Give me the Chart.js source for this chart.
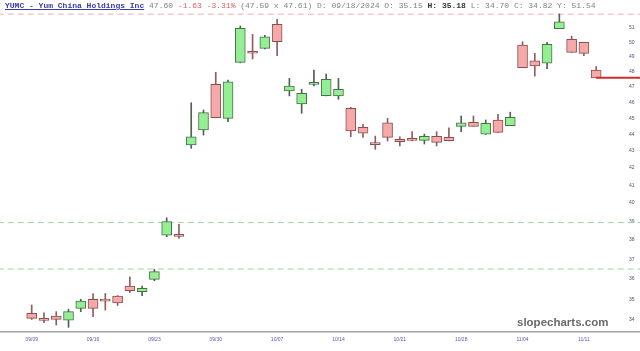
<!DOCTYPE html>
<html>
<head>
<meta charset="utf-8">
<script src="https://cdn.jsdelivr.net/npm/chart.js@4/dist/chart.umd.min.js"></script>
<style>
  html, body { margin: 0; padding: 0; background: #fff; }
  #wrap { position: relative; width: 640px; height: 351px; overflow: hidden; }
  canvas { position: absolute; left: 0; top: 0; }
  #hdr { position: absolute; left: 5px; top: 1px; font: 8px "Liberation Mono", "DejaVu Sans Mono", monospace; line-height: 10px; white-space: pre; color: #808080; }
  #hdr .t { color: #3a3aa8; text-decoration: underline; font-weight: bold; }
  #hdr .r { color: #e06060; }
  #hdr b { color: #333; }
  #wm { position: absolute; left: 517px; top: 315px; font: bold 11.5px "Liberation Sans", Arial, sans-serif; color: #6a6a6a; line-height: 14px; }
</style>
</head>
<body>
<div id="wrap">
  <canvas id="c" width="640" height="351"></canvas>
  <div id="hdr"><span class="t">YUMC - Yum China Holdings Inc</span> 47.60 <span class="r">-1.63 -3.31%</span> (47.59 x 47.61) D: 09/18/2024 O: 35.15 <b>H: 35.18</b> L: 34.70 C: 34.82 Y: 51.54</div>
  <div id="wm">slopecharts.com</div>
</div>
<script>
const dates = ['09/09','09/10','09/11','09/12','09/13','09/16','09/17','09/18','09/19','09/20',
  '09/23','09/24','09/25','09/26','09/27','09/30','10/01','10/02','10/03','10/04',
  '10/07','10/08','10/09','10/10','10/11','10/14','10/15','10/16','10/17','10/18',
  '10/21','10/22','10/23','10/24','10/25','10/28','10/29','10/30','10/31','11/01',
  '11/04','11/05','11/06','11/07','11/08','11/11','11/12'];
const open  = [34.32,34.08,34.19,34.00,34.56,34.99,34.97,35.15,35.65,35.37,
  35.98,38.26,38.30,43.36,44.27,47.17,44.99,48.63,49.38,49.59,
  51.27,46.74,45.90,47.17,46.44,46.42,45.63,44.44,43.46,44.72,
  43.70,43.72,43.64,43.88,43.82,44.50,44.75,44.01,44.89,44.54,
  49.82,48.74,48.57,50.96,50.21,50.00,48.12];
const high  = [34.72,34.35,34.40,34.52,35.00,35.28,35.28,35.18,36.11,35.65,
  36.48,39.19,38.84,45.98,45.52,47.96,47.45,51.15,50.56,50.49,
  51.62,47.56,46.85,48.12,47.85,47.56,45.69,44.62,43.90,45.00,
  43.86,44.17,44.02,44.17,44.41,45.14,45.14,44.89,45.25,45.38,
  50.04,49.25,50.00,52.01,50.44,50.00,48.34];
const low   = [34.03,33.88,33.77,33.66,34.40,34.16,34.48,34.70,35.32,35.17,
  35.91,38.17,38.09,43.16,43.96,45.03,44.78,48.60,48.86,49.54,
  49.08,46.42,45.31,47.07,46.42,46.20,43.86,43.82,43.10,43.60,
  43.30,43.60,43.42,43.30,43.60,44.17,44.50,44.00,44.13,44.54,
  48.27,47.71,48.20,50.96,49.31,49.08,47.60];
const close = [34.08,33.99,34.03,34.40,34.91,34.56,34.91,34.82,35.42,35.53,
  36.37,38.98,38.19,43.86,45.35,45.03,47.34,50.99,49.25,50.39,
  50.05,47.06,46.59,47.30,47.50,46.85,44.21,44.07,43.38,43.82,
  43.56,43.64,43.88,43.52,43.62,44.72,44.50,44.68,44.13,45.06,
  48.27,48.39,49.87,51.45,49.31,49.24,47.60];
const xTickLabels = ['09/09','09/16','09/23','09/30','10/07','10/14','10/21','10/28','11/04','11/11'];
const yTickLabels = [34,35,36,37,38,39,40,41,42,43,44,45,46,47,48,49,50,51];
const greenLevels = [38.93, 36.50];
const pinkLevel = 52.0;
const lastPrice = 47.60;

const up = close.map((c, i) => c >= open[i]);
const idx = dates.map((d, i) => i);
const X_MIN = -2.583, X_MAX = 47.78;

const datasets = [
  {
    type: 'bar', label: 'wick', grouped: false, order: 3,
    data: idx.map(i => ({x: i, y: [low[i], high[i]]})),
    backgroundColor: up.map(u => u ? '#4f614f' : '#8e5e5e'),
    borderWidth: 0, maxBarThickness: 1, barPercentage: 1, categoryPercentage: 1
  },
  {
    type: 'bar', label: 'body', grouped: false, order: 2,
    data: idx.map(i => ({x: i, y: [open[i], close[i]]})),
    backgroundColor: up.map(u => u ? '#94ee94' : '#f6a9a9'),
    borderColor: up.map(u => u ? '#4a704a' : '#8a5050'),
    borderWidth: 1, borderSkipped: false, minBarLength: 2,
    maxBarThickness: 10, barPercentage: 1, categoryPercentage: 1
  },
  ...greenLevels.map(v => ({
    type: 'line', label: 'lvl', order: 4, clip: false,
    data: [{x: X_MIN - 1, y: v}, {x: X_MAX + 4, y: v}],
    borderColor: '#9fd29f', borderWidth: 1, borderDash: [6, 4], pointRadius: 0
  })),
  {
    type: 'line', label: 'hi', order: 4, clip: false,
    data: [{x: X_MIN - 1, y: pinkLevel}, {x: X_MAX + 4, y: pinkLevel}],
    borderColor: '#f0acac', borderWidth: 1, borderDash: [6, 4], pointRadius: 0
  },
  {
    type: 'line', label: 'last', order: 1, clip: false,
    data: [{x: dates.length - 1, y: lastPrice}, {x: X_MAX + 4, y: lastPrice}],
    borderColor: '#d42a2a', borderWidth: 2, pointRadius: 0
  }
];

const fullBaseline = {
  id: 'fullBaseline',
  afterDraw(chart) {
    const {ctx, chartArea} = chart;
    ctx.save();
    ctx.strokeStyle = '#a0a0a0';
    ctx.lineWidth = 1.5;
    ctx.beginPath();
    ctx.moveTo(chartArea.left, chartArea.bottom + 0.75);
    ctx.lineTo(chart.width, chartArea.bottom + 0.75);
    ctx.stroke();
    ctx.restore();
  }
};

new Chart(document.getElementById('c'), {
  type: 'bar',
  data: { datasets },
  plugins: [fullBaseline],
  options: {
    responsive: false, animation: false, devicePixelRatio: 1,
    layout: { padding: 0 },
    plugins: { legend: { display: false }, tooltip: { enabled: false } },
    scales: {
      x: {
        type: 'linear', min: X_MIN, max: X_MAX, offset: false,
        grid: { display: false, drawTicks: false },
        border: { display: false },
        afterBuildTicks: s => { s.ticks = xTickLabels.map(l => ({ value: dates.indexOf(l) })); },
        afterFit: s => { s.height = 20; s.paddingLeft = 0; s.paddingRight = 0; },
        ticks: {
          autoSkip: false, maxRotation: 0, padding: 6, color: '#5a5aa8',
          font: { family: 'Liberation Sans', size: 5 },
          callback: v => dates[v]
        }
      },
      y: {
        type: 'logarithmic', position: 'right', min: 33.49, max: 53.03,
        grid: { display: false, drawTicks: false },
        border: { display: false },
        afterBuildTicks: s => { s.ticks = yTickLabels.map(v => ({ value: v })); },
        afterFit: s => { s.width = 22; s.paddingTop = 0; s.paddingBottom = 0; },
        ticks: {
          autoSkip: false, padding: 11, color: '#50507a',
          font: { family: 'Liberation Sans', size: 5 },
          callback: v => String(v)
        }
      }
    }
  }
});
</script>
</body>
</html>
